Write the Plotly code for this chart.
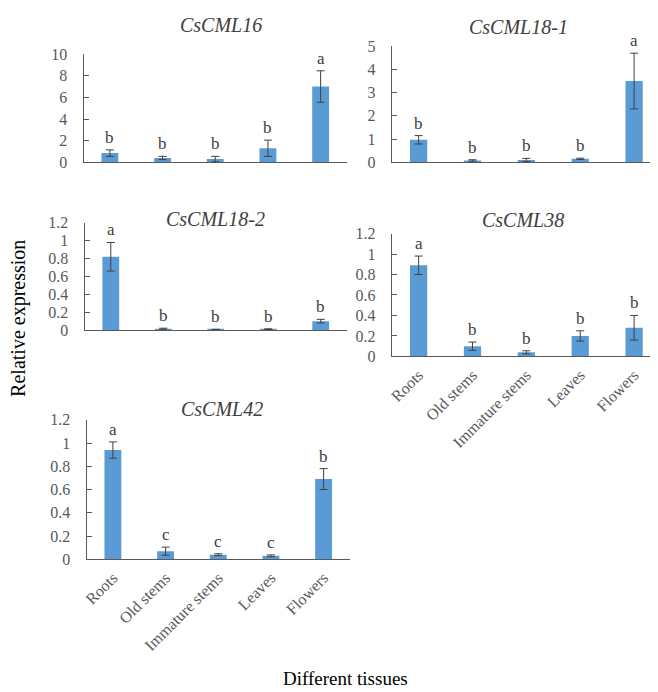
import plotly.graph_objects as go

W, H = 658, 692

tissues = ["Roots", "Old stems", "Immature stems", "Leaves", "Flowers"]

cml16 = [0.85, 0.4, 0.3, 1.3, 7.0]
cml16_err = [0.3, 0.15, 0.25, 0.75, 1.45]
cml16_sig = ["b", "b", "b", "b", "a"]

cml18_1 = [0.97, 0.08, 0.10, 0.15, 3.5]
cml18_1_err = [0.18, 0.03, 0.07, 0.03, 1.2]
cml18_1_sig = ["b", "b", "b", "b", "a"]

cml18_2 = [0.82, 0.015, 0.006, 0.01, 0.10]
cml18_2_err = [0.16, 0.006, 0.003, 0.004, 0.02]
cml18_2_sig = ["a", "b", "b", "b", "b"]

cml38 = [0.89, 0.10, 0.04, 0.20, 0.28]
cml38_err = [0.09, 0.04, 0.015, 0.05, 0.12]
cml38_sig = ["a", "b", "b", "b", "b"]

cml42 = [0.94, 0.07, 0.04, 0.03, 0.69]
cml42_err = [0.07, 0.035, 0.008, 0.008, 0.09]
cml42_sig = ["a", "c", "c", "c", "b"]

titles = ["CsCML16", "CsCML18-1", "CsCML18-2", "CsCML38", "CsCML42"]
values = [cml16, cml18_1, cml18_2, cml38, cml42]
errors = [cml16_err, cml18_1_err, cml18_2_err, cml38_err, cml42_err]
letters = [cml16_sig, cml18_1_sig, cml18_2_sig, cml38_sig, cml42_sig]
y_max = [10, 5, 1.2, 1.2, 1.2]
y_step = [2, 1, 0.2, 0.2, 0.2]
show_xlabels = [False, False, False, True, True]

# pixel boxes: (x0, x1, y_top, y_bottom)
boxes = [(72, 337, 39, 150), (382, 653, 31, 150), (73, 337, 212, 322),
         (382, 653, 223, 349), (75, 340, 414, 557)]
title_pos = [(210, 9), (510, 11), (205, 208), (514, 209), (211, 403)]

FONT = "Liberation Serif"
BAR = "#5B9BD5"
AXC = "#595959"

fig = go.Figure()
annotations = []
layout = {}
for i in range(5):
    n = "" if i == 0 else str(i + 1)
    x0, x1, yt, yb = boxes[i]
    fig.add_trace(go.Bar(
        x=tissues, y=values[i], xaxis="x" + n, yaxis="y" + n,
        marker=dict(color=BAR, line=dict(width=0)),
        error_y=dict(type="data", array=errors[i], color="#404040", thickness=1, width=4),
        width=0.32, showlegend=False,
    ))
    layout["xaxis" + n] = dict(
        domain=[x0 / W, x1 / W], anchor="y" + n, type="category",
        showline=True, linecolor=AXC, linewidth=1, ticks="",
        showticklabels=show_xlabels[i], tickangle=-45, ticklabelstandoff=2,
        tickfont=dict(family=FONT, size=16, color=AXC), showgrid=False,
        zeroline=False,
    )
    layout["yaxis" + n] = dict(
        domain=[1 - yb / H, 1 - yt / H], anchor="x" + n,
        range=[0, y_max[i]], dtick=y_step[i], tick0=0,
        showline=True, linecolor=AXC, linewidth=1, ticks="inside", ticklen=5,
        tickcolor=AXC, tickfont=dict(family=FONT, size=16, color=AXC),
        ticklabelstandoff=12, showgrid=False, zeroline=False,
    )
    for j in range(5):
        annotations.append(dict(
            x=tissues[j], y=values[i][j] + errors[i][j], xref="x" + n, yref="y" + n,
            text=letters[i][j], showarrow=False, yanchor="bottom", yshift=1,
            font=dict(family=FONT, size=17, color="#404040"),
        ))
    tx, ty = title_pos[i]
    annotations.append(dict(
        x=tx / W, y=1 - ty / H, xref="paper", yref="paper", text="<i>" + titles[i] + "</i>",
        showarrow=False, xanchor="center", yanchor="middle",
        font=dict(family=FONT, size=20, color="#404040"),
    ))

annotations.append(dict(
    x=0, y=1 - 310 / H, xref="paper", yref="paper", text="Relative expression",
    showarrow=False, textangle=-90, xanchor="left", yanchor="middle", xshift=-7,
    font=dict(family=FONT, size=20, color="black"),
))
annotations.append(dict(
    x=336 / W, y=1 - 679 / H, xref="paper", yref="paper", text="Different tissues",
    showarrow=False, xanchor="center", yanchor="middle",
    font=dict(family=FONT, size=19, color="black"),
))

fig.update_layout(
    width=W, height=H, margin=dict(l=0, r=0, t=0, b=0),
    plot_bgcolor="white", paper_bgcolor="white",
    annotations=annotations, **layout,
)

fig.write_html("out.html")
